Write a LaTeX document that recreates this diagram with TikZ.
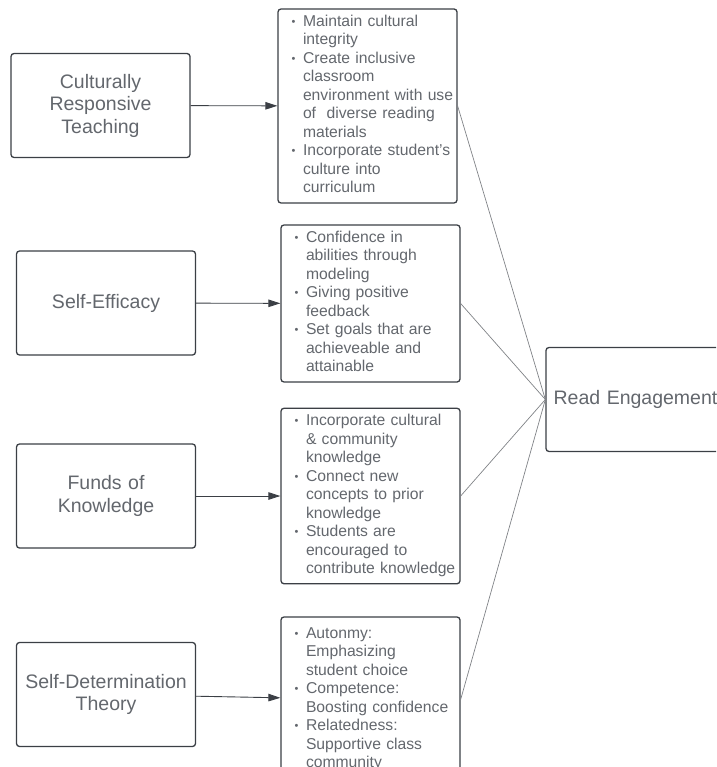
\documentclass[tikz,border=0pt]{standalone}
\usepackage{fontspec}
\setmainfont{Liberation Sans}
\usetikzlibrary{arrows.meta}

\definecolor{boxline}{HTML}{3B3F45}
\definecolor{boxtext}{HTML}{63676D}
\definecolor{linkline}{HTML}{808387}

% bullet line and follow-on line of a list box
\newcommand{\bul}{\strut\hspace*{10.5pt}\makebox[11.5pt][l]{\raisebox{1pt}{\fontsize{11}{11}\selectfont\textbullet}}}
\newcommand{\cnt}{\strut\hspace*{22pt}}

\begin{document}
\begin{tikzpicture}[x=1pt, y=-1pt,
	arrows={-Triangle[length=12pt,width=7.5pt]},
	concept/.style={draw=boxline, line width=1.3pt, rounded corners=3pt,
		minimum width=179pt, minimum height=104pt, text width=170pt, inner xsep=4.5pt,
		align=center, text=boxtext, font=\fontsize{19.5}{22.5}\selectfont},
	detail/.style={draw=boxline, line width=1.3pt, rounded corners=3pt,
		text width=173pt, inner xsep=3pt, inner ysep=4.5pt,
		align=left, text=boxtext, font=\fontsize{15.7}{18.5}\selectfont},
	feed/.style={draw=boxline, line width=0.9pt, fill=none},
	link/.style={draw=linkline, line width=0.7pt, -}]
	\useasboundingbox (0,0) rectangle (716,767);
	\clip (0,0) rectangle (716,767);

	\node[concept] (CRT) at (100.5,105.5) {Culturally\\Responsive\\Teaching};
	\node[concept] (SE) at (106,303) {Self-Efficacy};
	\node[concept] (FK) at (106,496) {Funds of\\Knowledge};
	\node[concept] (SDT) at (106,694.5) {Self-Determination\\Theory};

	\node[detail] (CRTlist) at (367.5,106) {\bul Maintain cultural\\ \cnt integrity\\
		\bul Create inclusive\\ \cnt classroom\\ \cnt environment with use\\ \cnt of\ \ diverse reading\\ \cnt materials\\
		\bul Incorporate student's\\ \cnt culture into\\ \cnt curriculum};
	\node[detail] (SElist) at (370.5,303.5) {\bul Confidence in\\ \cnt abilities through\\ \cnt modeling\\
		\bul Giving positive\\ \cnt feedback\\
		\bul Set goals that are\\ \cnt achieveable and\\ \cnt attainable};
	\node[detail] (FKlist) at (370.5,496) {\bul Incorporate cultural\\ \cnt \& community\\ \cnt knowledge\\
		\bul Connect new\\ \cnt concepts to prior\\ \cnt knowledge\\
		\bul Students are\\ \cnt encouraged to\\ \cnt contribute knowledge};
	\node[detail, inner ysep=8.5pt] (SDTlist) at (370.5,699.5) {\bul Autonmy:\\ \cnt Emphasizing\\ \cnt student choice\\
		\bul Competence:\\ \cnt Boosting confidence\\
		\bul Relatedness:\\ \cnt Supportive class\\ \cnt community};

	\node[concept] (RE) at (635.5,399.5) {Read Engagement};

	\draw[feed] (CRT) -- (CRTlist);
	\draw[feed] (SE) -- (SElist);
	\draw[feed] (FK) -- (FKlist);
	\draw[feed] (SDT) -- (SDTlist);

	\draw[link] (CRTlist.east) -- (RE.west);
	\draw[link] (SElist.east) -- (RE.west);
	\draw[link] (FKlist.east) -- (RE.west);
	\draw[link] (SDTlist.east) -- (RE.west);
\end{tikzpicture}
\end{document}
